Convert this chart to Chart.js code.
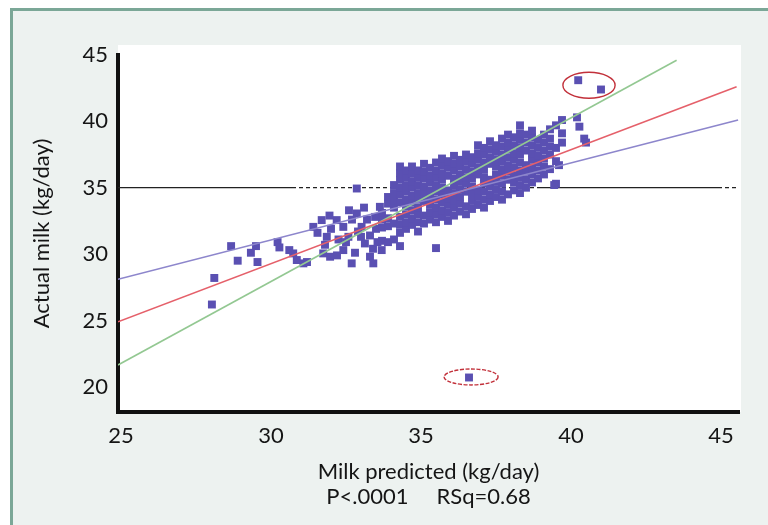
<!DOCTYPE html>
<html>
<head>
<meta charset="utf-8">
<script src="https://cdn.jsdelivr.net/npm/chart.js@4.4.1/dist/chart.umd.min.js"></script>
<style>
  html, body { margin: 0; padding: 0; background: #fff; }
  canvas { display: block; }
</style>
</head>
<body>
<canvas id="milkChart" width="768" height="525"></canvas>
<script>
/* =======================
   DATA
======================= */
const xTicks = [25, 30, 35, 40, 45];
const yTicks = [20, 25, 30, 35, 40, 45];

// scattered cows on the left of the cloud [predicted, actual]
const sparsePoints = [
  [28.03,26.2],[28.11,28.2],[28.67,30.6],[28.89,29.5],[29.33,30.1],[29.5,30.6],[29.55,29.4],
  [30.22,30.9],[30.28,30.5],[30.61,30.3],[30.74,30.05],[30.86,29.55],[31.08,29.3],[31.2,29.4],
  [31.41,32.05],[31.55,31.6],[31.69,32.56],[31.86,31.3],[31.74,30.05],[31.97,29.8],[31.8,30.7],
  [32.0,31.9],[32.19,32.56],[32.25,31.1],[32.41,32.05],[32.58,31.3],[32.41,30.3],[32.5,30.9],
  [32.69,29.3],[32.7,32.6],[32.86,33.06],[32.9,31.7],[33.02,32.05],[33.13,30.8],[33.0,31.3],
  [33.2,32.6],[33.3,29.8],[33.41,29.3],[33.3,31.4],[33.47,32.8],[33.63,33.56],[33.5,31.9],
  [33.69,30.3],[33.4,30.4],[32.8,30.1],[32.2,29.9],[31.95,32.9],[32.6,33.3],[33.1,33.5],
  [33.55,30.9]
];

// dense part of the cloud, read column by column: [predicted, [actual...]]
const cloudColumns = [
  [33.7, [31.0,32.0,32.6,33.1]],
  [33.9, [30.9,32.1,32.7,33.8,34.3]],
  [34.1, [31.1,32.3,33.5,34.0,34.6,35.2]],
  [34.3, [30.6,31.6,32.2,32.8,33.9,34.5,35.0,35.6,36.1,36.6]],
  [34.5, [31.9,32.4,33.0,33.6,34.1,34.7,35.2,35.8,36.3]],
  [34.7, [32.2,32.7,33.3,33.9,34.4,35.0,35.5,36.1,36.6]],
  [34.9, [31.7,32.4,33.0,33.5,34.1,34.6,35.2,35.8,36.3]],
  [35.1, [32.3,32.9,34.0,34.6,35.1,35.7,36.2,36.8]],
  [35.3, [32.6,33.1,33.7,34.3,34.8,35.4,35.9,36.5]],
  [35.5, [32.4,33.0,33.5,34.1,34.7,35.2,35.8,36.3,36.9]],
  [35.7, [32.8,33.3,33.9,34.5,35.0,35.6,36.1,36.7,37.2]],
  [35.9, [32.5,33.1,33.7,34.2,34.8,35.9,36.5,37.0]],
  [36.1, [32.9,33.5,34.0,34.6,35.2,35.7,36.3,36.8,37.4]],
  [36.3, [33.2,33.8,34.3,34.9,35.5,36.0,36.6,37.1]],
  [36.5, [33.0,33.6,34.7,35.3,35.8,36.4,37.0,37.5]],
  [36.7, [33.4,34.0,34.6,35.1,35.7,36.2,36.8,37.3]],
  [36.9, [33.7,34.3,34.8,36.0,36.5,37.1,37.6,38.2]],
  [37.1, [33.5,34.1,34.7,35.3,35.8,36.4,36.9,37.5,38.0]],
  [37.3, [34.0,34.5,35.1,35.6,36.8,37.3,37.9,38.5]],
  [37.5, [34.3,34.9,35.5,36.0,36.6,37.1,37.7,38.2]],
  [37.7, [34.1,34.7,35.3,35.9,36.4,37.0,37.5,38.1,38.7]],
  [37.9, [34.5,35.6,36.2,36.7,37.3,37.9,38.4,39.0]],
  [38.1, [34.8,35.4,35.9,36.5,37.1,37.6,38.2,38.8]],
  [38.3, [34.6,35.2,35.8,36.3,36.9,37.5,38.0,38.6,39.1,39.7]],
  [38.5, [35.0,35.6,36.2,36.7,37.8,38.4,39.0]],
  [38.7, [35.4,36.0,36.5,37.1,37.6,38.2,38.8,39.3]],
  [38.9, [35.7,36.3,36.9,37.4,38.0,38.6]],
  [39.1, [36.0,36.6,37.2,37.8,38.4,39.0]],
  [39.3, [36.4,37.5,38.1,38.7,39.4]],
  [39.5, [35.3,37.0,38.0,39.7]],
  [39.7, [38.4,39.1,40.1]]
];

// loose cows around the cloud and the circled outliers
const outlierPoints = [
  [32.86,34.94],[35.5,30.45],[39.44,35.2],[39.6,36.7],
  [40.2,40.3],[40.28,39.6],[40.44,38.7],[40.5,38.4],
  [40.24,43.1],[41.0,42.4],[36.6,20.7]
];

// fitted lines (end points in data units)
const blueLineX = [24.9, 45.57];
const blueLineY = [28.1, 40.1];
const redLineX = [24.9, 45.52];
const redLineY = [24.9, 42.6];
const greenLineX = [24.9, 43.52];
const greenLineY = [21.64, 44.6];

// reference line at 35 kg/day, dashed on the 2nd and 4th piece
const refLineX = [24.9, 30.7, 39.0, 44.9, 45.6];
const refLineY = [35, 35, 35, 35, 35];

// red rings around the outliers
const ringCenterX = [40.6, 36.67];
const ringCenterY = [42.72, 20.74];
const ringRadiusX = [0.87, 0.9];
const ringRadiusY = [0.98, 0.6];

/* =======================
   BUILD
======================= */
const toXY = (xs, ys) => xs.map((x, i) => ({x, y: ys[i]}));

const cowPoints = [];
sparsePoints.forEach(p => cowPoints.push({x: p[0], y: p[1]}));
cloudColumns.forEach(col => col[1].forEach(v => cowPoints.push({x: col[0], y: v})));
outlierPoints.forEach(p => cowPoints.push({x: p[0], y: p[1]}));

const FONT = 'Lato, "Open Sans", sans-serif';
const INK = '#151515';

const framePlugin = {
  id: 'frame',
  beforeDraw(chart) {
    const {ctx, chartArea} = chart;
    ctx.save();
    ctx.fillStyle = '#ffffff';
    ctx.fillRect(0, 0, chart.width, chart.height);
    ctx.fillStyle = '#edf2f0';
    ctx.fillRect(10, 8, chart.width, chart.height);
    ctx.strokeStyle = '#7ba797';
    ctx.lineWidth = 3;
    ctx.strokeRect(11.5, 9.5, chart.width + 20, chart.height + 20);
    ctx.fillStyle = '#ffffff';
    ctx.fillRect(chartArea.left, chartArea.top - 10, chartArea.right - chartArea.left + 2, chartArea.bottom - chartArea.top + 10);
    ctx.restore();
  }
};

const ringPlugin = {
  id: 'rings',
  afterDatasetsDraw(chart) {
    const {ctx, scales: {x, y}} = chart;
    ctx.save();
    ringCenterX.forEach((cx, i) => {
      const cy = ringCenterY[i];
      const px = x.getPixelForValue(cx);
      const py = y.getPixelForValue(cy);
      const rx = Math.abs(x.getPixelForValue(cx + ringRadiusX[i]) - px);
      const ry = Math.abs(y.getPixelForValue(cy + ringRadiusY[i]) - py);
      ctx.beginPath();
      ctx.ellipse(px, py, rx, ry, 0, 0, Math.PI * 2);
      ctx.strokeStyle = '#c2303a';
      ctx.lineWidth = 1.4;
      ctx.setLineDash(i === 1 ? [4, 1.5] : []);
      ctx.stroke();
    });
    ctx.restore();
  }
};

function lineSet(xs, ys, color, width) {
  return {
    data: toXY(xs, ys),
    showLine: true,
    borderColor: color,
    borderWidth: width,
    pointRadius: 0,
    order: 0
  };
}

new Chart(document.getElementById('milkChart'), {
  type: 'scatter',
  data: {
    datasets: [
      lineSet(blueLineX, blueLineY, '#8d86cc', 1.6),
      lineSet(redLineX, redLineY, '#e5606a', 1.6),
      lineSet(greenLineX, greenLineY, '#93c892', 1.6),
      {
        data: cowPoints,
        pointStyle: 'rect',
        pointRadius: 5.6,
        pointBackgroundColor: '#5a50b2',
        pointBorderWidth: 0,
        order: 1
      },
      {
        data: toXY(refLineX, refLineY),
        showLine: true,
        borderColor: '#222',
        borderWidth: 1.2,
        pointRadius: 0,
        segment: { borderDash: c => (c.p0DataIndex % 2 === 1 ? [4, 3] : undefined) },
        order: 2
      }
    ]
  },
  options: {
    responsive: false,
    animation: false,
    devicePixelRatio: 1,
    layout: { padding: { top: 55, right: 29, left: 0, bottom: 0 } },
    plugins: { legend: { display: false }, tooltip: { enabled: false } },
    scales: {
      x: {
        type: 'linear',
        min: 24.9,
        max: 45.6,
        afterBuildTicks: s => { s.ticks = xTicks.map(v => ({value: v})); },
        afterFit: s => { s.height = 113; },
        grid: { display: false, drawTicks: false },
        border: { display: true, color: '#111', width: 4 },
        ticks: { color: INK, padding: 11, font: { family: FONT, size: 22 } },
        title: {
          display: true,
          text: ['Milk predicted (kg/day)', 'P<.0001     RSq=0.68'],
          color: INK,
          font: { family: FONT, size: 22, lineHeight: 25 / 22 },
          padding: { top: 0, bottom: 16 }
        }
      },
      y: {
        type: 'linear',
        min: 18.1,
        max: 45,
        afterBuildTicks: s => { s.ticks = yTicks.map(v => ({value: v})); },
        afterFit: s => { s.width = 118; },
        grid: { display: false, drawTicks: false },
        border: { display: true, color: '#111', width: 4 },
        ticks: { color: INK, padding: 10, font: { family: FONT, size: 22 } },
        title: {
          display: true,
          text: 'Actual milk (kg/day)',
          color: INK,
          font: { family: FONT, size: 22, lineHeight: 25 / 22 },
          padding: { top: 29, bottom: 0 }
        }
      }
    }
  },
  plugins: [framePlugin, ringPlugin]
});
</script>
</body>
</html>
